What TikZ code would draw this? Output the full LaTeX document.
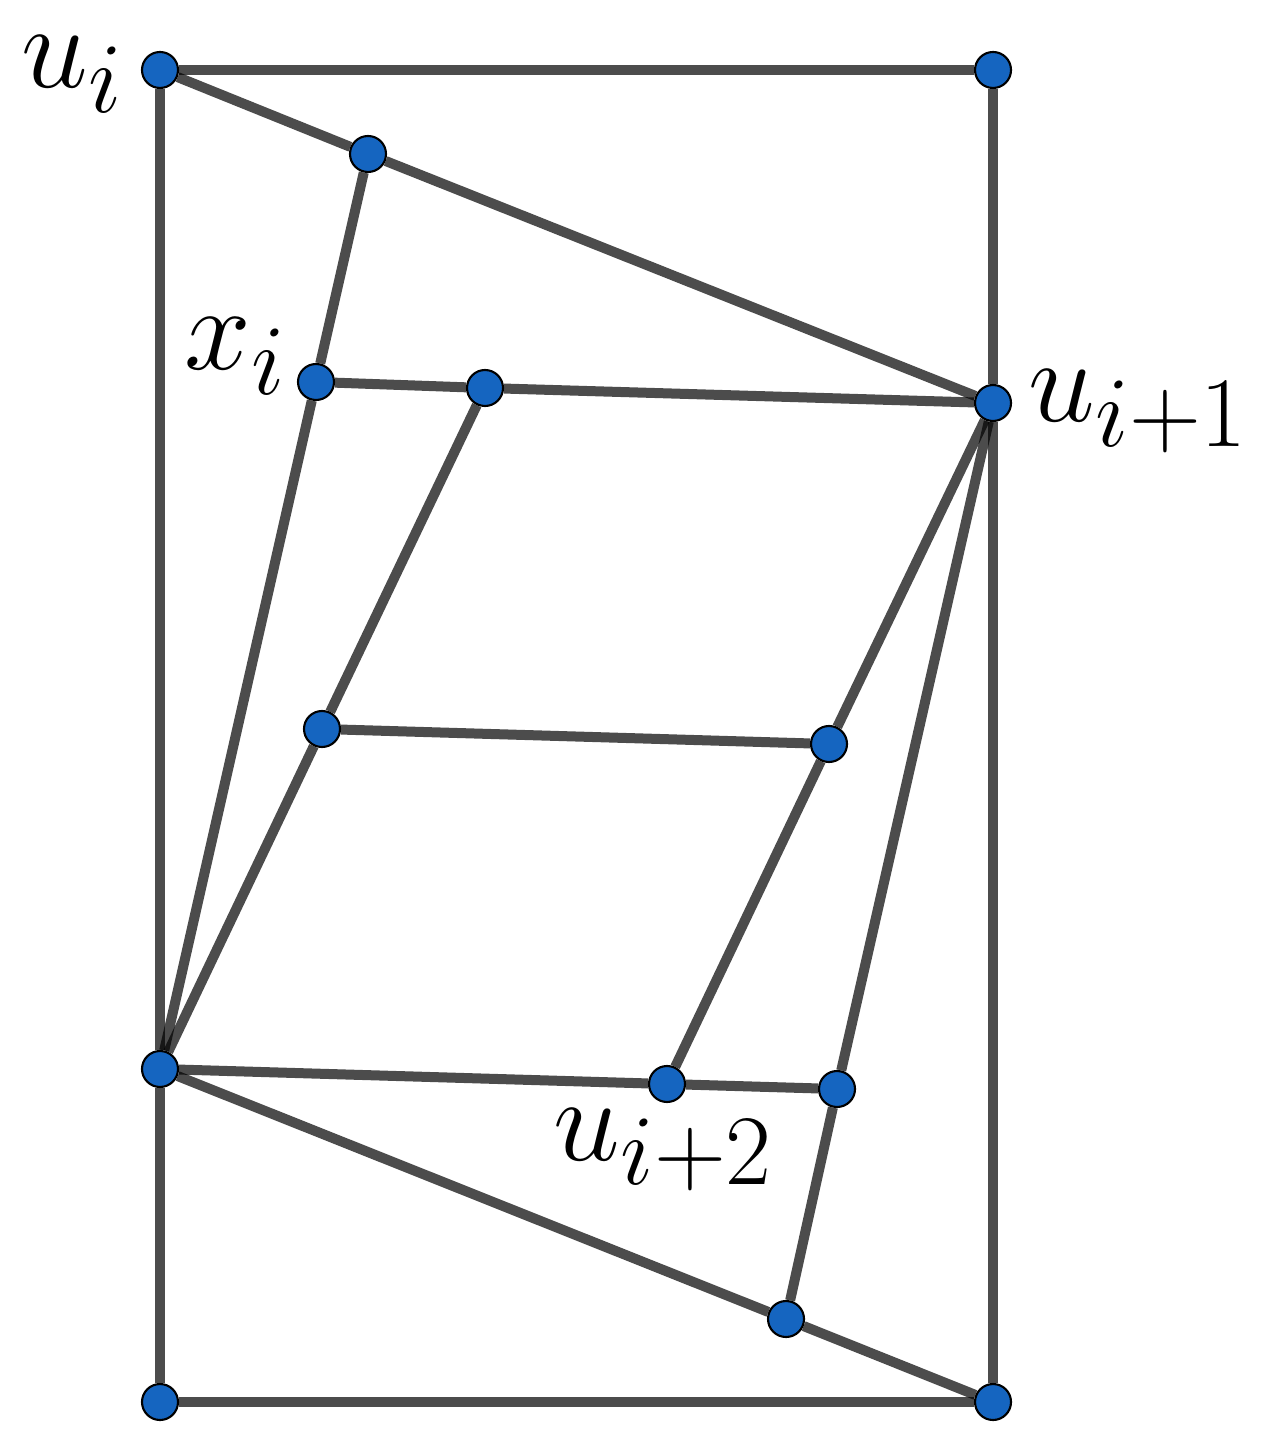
\documentclass[tikz,border=0pt]{standalone}
\usetikzlibrary{backgrounds}
\definecolor{ptblue}{RGB}{21,101,192}
\tikzset{
	pt/.style={circle, draw=black, fill=ptblue, line width=0.6pt, minimum size=0.36cm, inner sep=0pt},
	seg/.style={draw=black, draw opacity=0.7, line width=0.1cm},
	lbl/.style={inner sep=0pt, font=\Huge, scale=1.37}
}

\begin{document}
\begin{tikzpicture}
	\useasboundingbox (0,0) rectangle (12.69,-14.33);

	% points
	\node[pt] (ui) at (1.60,-0.70) {};
	\node[pt] (tr) at (9.93,-0.70) {};
	\node[pt] (c1) at (3.68,-1.54) {};
	\node[pt] (xi) at (3.16,-3.82) {};
	\node[pt] (f) at (4.85,-3.88) {};
	\node[pt] (uii) at (9.93,-4.03) {};
	\node[pt] (g) at (3.22,-7.29) {};
	\node[pt] (h) at (8.29,-7.44) {};
	\node[pt] (li) at (1.60,-10.69) {};
	\node[pt] (uiii) at (6.67,-10.84) {};
	\node[pt] (k) at (8.37,-10.89) {};
	\node[pt] (l) at (7.86,-13.19) {};
	\node[pt] (bl) at (1.60,-14.02) {};
	\node[pt] (br) at (9.93,-14.02) {};

	% labels
	\node[lbl, anchor=base east] (lui) at (1.25,-0.88) {$u_i$};
	\node[lbl, anchor=base east] (lxi) at (2.88,-3.70) {$x_i$};
	\node[lbl, anchor=base west] (luii) at (10.28,-4.22) {$u_{i+1}$};
	\node[lbl, anchor=base west] (luiii) at (5.53,-11.60) {$u_{i+2}$};

	\begin{pgfonlayer}{background}
	% frame
	\draw[seg] (ui) -- (tr);
	\draw[seg] (tr) -- (uii);
	\draw[seg] (uii) -- (br);
	\draw[seg] (ui) -- (li);
	\draw[seg] (li) -- (bl);
	\draw[seg] (bl) -- (br);

	% inside
	\draw[seg] (ui) -- (c1);
	\draw[seg] (c1) -- (uii);
	\draw[seg] (c1) -- (xi);
	\draw[seg] (xi) -- (li);
	\draw[seg] (xi) -- (f);
	\draw[seg] (f) -- (uii);
	\draw[seg] (f) -- (g);
	\draw[seg] (g) -- (li);
	\draw[seg] (g) -- (h);
	\draw[seg] (h) -- (uii);
	\draw[seg] (h) -- (uiii);
	\draw[seg] (li) -- (uiii);
	\draw[seg] (uiii) -- (k);
	\draw[seg] (k) -- (uii);
	\draw[seg] (k) -- (l);
	\draw[seg] (li) -- (l);
	\draw[seg] (l) -- (br);
	\end{pgfonlayer}
\end{tikzpicture}
\end{document}
